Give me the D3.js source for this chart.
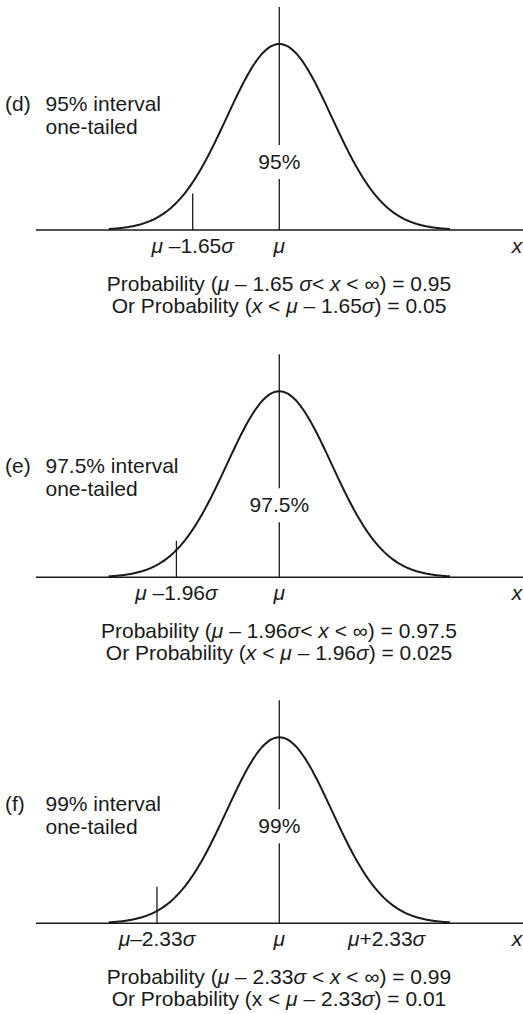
<!DOCTYPE html>
<html>
<head>
<meta charset="utf-8">
<script src="https://cdn.jsdelivr.net/npm/d3@7"></script>
<style>
  html, body { margin: 0; padding: 0; background: #fff; }
  svg { display: block; }
  text { font-family: "Liberation Sans", Arial, Helvetica, sans-serif; fill: #1a1a1a; }
</style>
</head>
<body>
<svg id="chart" width="523" height="1014"></svg>
<script>
// One-tailed confidence intervals of the normal distribution.
// Text markup: segments wrapped in *...* are set in italics.
const panelKeys      = ["(d)", "(e)", "(f)"];
const intervalLabels = ["95% interval", "97.5% interval", "99% interval"];
const tailLabels     = ["one-tailed", "one-tailed", "one-tailed"];
const areaLabels     = ["95%", "97.5%", "99%"];
const criticalZ      = [-1.65, -1.96, -2.33];
const criticalLabels = ["*μ* –1.65*σ*", "*μ* –1.96*σ*", "*μ*–2.33*σ*"];
const upperZ         = [null, null, 2.33];
const upperLabels    = [null, null, "*μ*+2.33*σ*"];
const meanLabel      = "*μ*";
const axisLabel      = "*x*";
const probLine1 = [
  "Probability (*μ* – 1.65 *σ*< *x* < ∞) = 0.95",
  "Probability (*μ* – 1.96*σ*< *x* < ∞) = 0.97.5",
  "Probability (*μ* – 2.33*σ* < *x* < ∞) = 0.99"
];
const probLine2 = [
  "Or Probability (*x* < *μ* – 1.65*σ*) = 0.05",
  "Or Probability (*x* < *μ* – 1.96*σ*) = 0.025",
  "Or Probability (x < *μ* – 2.33*σ*) = 0.01"
];
const zExtent = [-3.25, 3.25];

// layout
const W = 523;
const cx = 279.3, halfW = 170.6;
const peakH = 186;
const panelBase = [230, 577.3, 923.3];
const areaLabelDy = [-68, -72, -97];   // vertical position of the centre percentage
const areaGap = 17;                    // half-gap in the centre line around it
const sideDy = [[-119, -96], [-104, -81], [-112, -89]];
const fs = 20, sx = 1.05;
const ink = "#1a1a1a";

const svg = d3.select("#chart");
const x = d3.scaleLinear().domain(zExtent).range([cx - halfW, cx + halfW]);
const pdf = z => Math.exp(-z * z / 2) / Math.sqrt(2 * Math.PI);
const y = d3.scaleLinear().domain([0, pdf(0)]).range([0, -peakH]);
const zs = d3.range(zExtent[0], zExtent[1] + 1e-9, 0.02);

function rich(g, str, px, py, anchor, size) {
  const t = g.append("text")
    .attr("transform", `translate(${px},${py}) scale(${sx},1)`)
    .attr("text-anchor", anchor)
    .style("font-size", size + "px");
  str.split("*").forEach((s, i) => {
    if (!s) return;
    t.append("tspan").text(s).style("font-style", i % 2 ? "italic" : "normal");
  });
  return t;
}

panelKeys.forEach((key, i) => {
  const g = svg.append("g").attr("transform", `translate(0,${panelBase[i]})`);

  // baseline
  g.append("line").attr("x1", 36).attr("x2", W).attr("y1", 0).attr("y2", 0)
    .attr("stroke", ink).attr("stroke-width", 1.6);

  // density curve
  g.append("path")
    .datum(zs)
    .attr("d", d3.line().x(z => x(z)).y(z => y(pdf(z))).curve(d3.curveBasis))
    .attr("fill", "none").attr("stroke", ink).attr("stroke-width", 2);

  // centre line, broken around the percentage
  const top = -223;
  g.append("line").attr("x1", x(0)).attr("x2", x(0))
    .attr("y1", top).attr("y2", areaLabelDy[i] - areaGap)
    .attr("stroke", ink).attr("stroke-width", 1.3);
  g.append("line").attr("x1", x(0)).attr("x2", x(0))
    .attr("y1", areaLabelDy[i] + areaGap).attr("y2", 0)
    .attr("stroke", ink).attr("stroke-width", 1.3);
  rich(g, areaLabels[i], x(0), areaLabelDy[i] + 7, "middle", fs);

  // critical-value tick
  g.append("line").attr("x1", x(criticalZ[i])).attr("x2", x(criticalZ[i]))
    .attr("y1", 0).attr("y2", -36.5)
    .attr("stroke", ink).attr("stroke-width", 1.3);

  // axis labels
  rich(g, criticalLabels[i], x(criticalZ[i]), 23, "middle", fs);
  rich(g, meanLabel, x(0), 23, "middle", fs);
  if (upperZ[i] !== null) rich(g, upperLabels[i], x(upperZ[i]) - 15, 23, "middle", fs);
  rich(g, axisLabel, 517, 23, "middle", fs);

  // side caption
  rich(g, key, 5, sideDy[i][0], "start", fs);
  rich(g, intervalLabels[i], 45.5, sideDy[i][0], "start", fs);
  rich(g, tailLabels[i], 45.5, sideDy[i][1], "start", fs);

  // probability statements
  rich(g, probLine1[i], 279, 60.5, "middle", fs);
  rich(g, probLine2[i], 279, 83, "middle", fs);
});
</script>
</body>
</html>
